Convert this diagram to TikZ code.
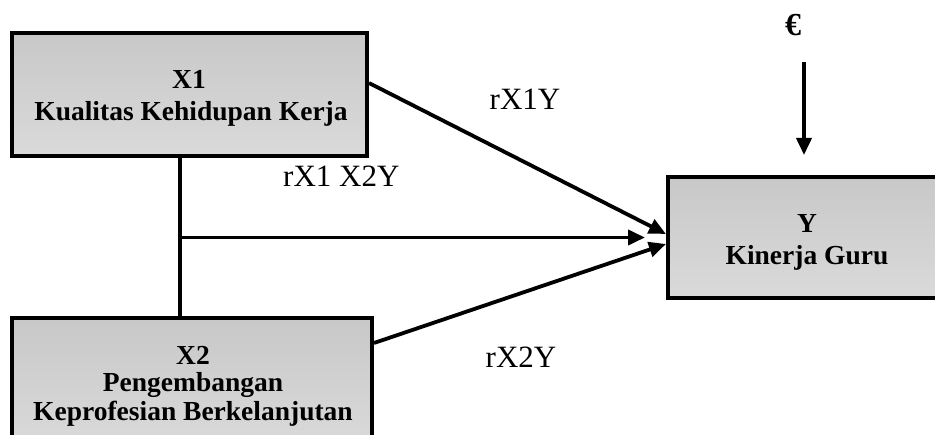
\documentclass[tikz,border=0pt]{standalone}
\usepackage{fontspec}
\setmainfont{Liberation Serif}
\usetikzlibrary{arrows.meta}
\definecolor{boxtop}{RGB}{200,200,200}
\definecolor{boxbot}{RGB}{218,218,218}
\tikzset{
  varbox/.style={draw=black, line width=4pt, rectangle, inner sep=0pt,
    top color=boxtop, bottom color=boxbot},
  boxtext/.style={font=\bfseries\fontsize{27.5}{31}\selectfont, inner sep=0pt},
  epstext/.style={font=\bfseries\fontsize{32}{36}\selectfont, inner sep=0pt},
  pathlabel/.style={font=\fontsize{31}{36}\selectfont, inner sep=0pt},
  conn/.style={line width=3.8pt},
  arr/.style={conn, -{Triangle[length=17pt,width=15pt]}}
}
\begin{document}
\begin{tikzpicture}[x=1pt,y=-1pt]
\useasboundingbox (0,0) rectangle (935,435);
\clip (0,0) rectangle (935,435);
% boxes
\node[varbox, minimum width=355pt, minimum height=123pt] (x1box) at (189.5,94.5) {};
\node[varbox, minimum width=360pt, minimum height=130pt] (x2box) at (192,383) {};
\node[varbox, minimum width=277pt, minimum height=121pt] (ybox) at (806.5,237.5) {};
% box texts
\node[boxtext, anchor=base] (x1a) at (189,89) {X1};
\node[boxtext, anchor=base] (x1b) at (191,120.5) {Kualitas Kehidupan Kerja};
\node[boxtext, anchor=base] (x2a) at (193,365) {X2};
\node[boxtext, anchor=base] (x2b) at (193,392) {Pengembangan};
\node[boxtext, anchor=base] (x2c) at (193,420.5) {Keprofesian Berkelanjutan};
\node[boxtext, anchor=base] (ya) at (807,233) {Y};
\node[boxtext, anchor=base] (yb) at (807,265) {Kinerja Guru};
% epsilon
\node[epstext, anchor=base] (eps) at (793,36) {€};
% labels
\node[pathlabel, anchor=base] (l1) at (525,110) {rX1Y};
\node[pathlabel, anchor=base west] (l12) at (283,187) {rX1 X2Y};
\node[pathlabel, anchor=base] (l2) at (521,368) {rX2Y};
% connectors
\draw[conn] ([xshift=170pt]x1box.south west) -- ([xshift=170pt]x2box.north west);
\coordinate (junc) at (182,237.5);
\draw[arr] (junc) -- ([xshift=-21pt]ybox.west);
\draw[arr] ([yshift=11.5pt]x1box.east) -- ([yshift=3.5pt]ybox.west);
\draw[arr] ([yshift=40pt]x2box.east) -- ([yshift=-6.5pt]ybox.west);
\coordinate (epsstart) at (804,62);
\draw[arr] (epsstart) -- ([xshift=-2.5pt,yshift=20pt]ybox.north);
\end{tikzpicture}
\end{document}
